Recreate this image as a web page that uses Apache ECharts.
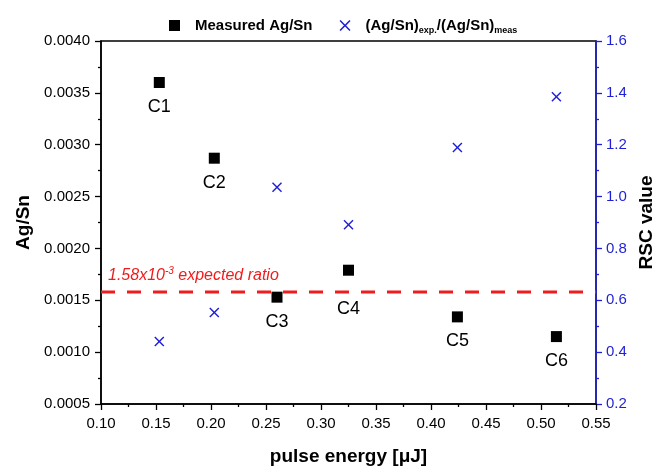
<!DOCTYPE html>
<html>
<head>
<meta charset="utf-8">
<script src="https://cdn.jsdelivr.net/npm/echarts@6/dist/echarts.min.js"></script>
<style>
  html, body { margin: 0; padding: 0; background: #fff; }
  #chart { width: 654px; height: 466px; }
</style>
</head>
<body>
<div id="chart"></div>
<script>
// Sample labels and pulse energies [µJ]
const sampleNames = ['C1', 'C2', 'C3', 'C4', 'C5', 'C6'];
const pulseEnergy = [0.153, 0.203, 0.260, 0.325, 0.424, 0.514];
// Measured Ag/Sn ratio (left axis)
const measuredAgSn = [0.00360, 0.00287, 0.00153, 0.00179, 0.00134, 0.00115];
// RSC value = (Ag/Sn)exp / (Ag/Sn)meas (right axis)
const rscValue = [0.441, 0.553, 1.036, 0.891, 1.189, 1.385];
// Expected ratio reference line
const expectedRatio = 0.00158;
// Axis ranges
const xRange = [0.10, 0.55];
const leftRange = [0.0005, 0.0040];
const rightRange = [0.2, 1.6];

const FONT = '"Liberation Sans", Arial, sans-serif';
const BLUE = '#1f1fd6';
const RED = '#ee1c1c';
const CROSS = 'path://M0,1L1,0L5,4L9,0L10,1L6,5L10,9L9,10L5,6L1,10L0,9L4,5Z';

const chart = echarts.init(document.getElementById('chart'), null, { renderer: 'canvas' });

const minorTick = { show: true, splitNumber: 2, length: 3, lineStyle: { width: 1.3 } };
const axisNameStyle = { fontFamily: FONT, fontSize: 19, fontWeight: 'bold', color: '#000' };

chart.setOption({
  animation: false,
  textStyle: { fontFamily: FONT },
  grid: {
    left: 101, right: 58, top: 41, bottom: 62,
    outerBoundsMode: 'none', containLabel: false,
    show: true, borderColor: '#000', borderWidth: 1.5, backgroundColor: 'transparent'
  },
  legend: {
    left: 164, top: 11,
    itemWidth: 11, itemHeight: 11, itemGap: 27,
    data: [
      { name: 'Measured Ag/Sn', icon: 'rect', itemStyle: { opacity: 1 } },
      { name: 'RSC', icon: CROSS, itemStyle: { opacity: 1 } }
    ],
    formatter: function (name) {
      if (name === 'RSC') {
        return '{b|(Ag/Sn)}{s|exp.}{b|/(Ag/Sn)}{s|meas}';
      }
      return '{b|' + name + '}';
    },
    textStyle: {
      padding: [0, 0, 0, 10],
      rich: {
        b: { fontFamily: FONT, fontSize: 15, fontWeight: 'bold', color: '#000', lineHeight: 18 },
        s: { fontFamily: FONT, fontSize: 9, fontWeight: 'bold', color: '#000', lineHeight: 18, padding: [10, 0, 0, 0] }
      }
    }
  },
  xAxis: {
    type: 'value',
    min: xRange[0], max: xRange[1], interval: 0.05,
    name: 'pulse energy [\u03BCJ]',
    nameLocation: 'middle', nameGap: 43,
    nameTextStyle: axisNameStyle,
    axisLine: { onZero: false, lineStyle: { color: '#000', width: 1.5 } },
    axisTick: { length: 6, lineStyle: { width: 1.3 } },
    minorTick: minorTick,
    splitLine: { show: false },
    axisLabel: {
      fontFamily: FONT, fontSize: 15, color: '#000', margin: 12,
      formatter: v => v.toFixed(2)
    }
  },
  yAxis: [
    {
      type: 'value',
      min: leftRange[0], max: leftRange[1], interval: 0.0005,
      name: 'Ag/Sn', nameLocation: 'middle', nameGap: 68,
      nameTextStyle: axisNameStyle,
      axisLine: { show: true, onZero: false, lineStyle: { color: '#000', width: 1.5 } },
      axisTick: { show: true, length: 6, lineStyle: { width: 1.3 } },
      minorTick: minorTick,
      splitLine: { show: false },
      axisLabel: {
        fontFamily: FONT, fontSize: 15, color: '#000', margin: 11,
        formatter: v => v.toFixed(4)
      }
    },
    {
      type: 'value', position: 'right',
      min: rightRange[0], max: rightRange[1], interval: 0.2,
      name: 'RSC value', nameLocation: 'middle', nameGap: 35, nameRotate: 90,
      nameTextStyle: axisNameStyle,
      axisLine: { show: true, onZero: false, lineStyle: { color: BLUE, width: 1.5 } },
      axisTick: { show: true, length: 6, lineStyle: { width: 1.3 } },
      minorTick: minorTick,
      splitLine: { show: false },
      axisLabel: {
        fontFamily: FONT, fontSize: 15, color: BLUE, margin: 10,
        formatter: v => v.toFixed(1)
      }
    }
  ],
  series: [
    {
      // dashed reference line for the expected Ag/Sn ratio
      name: 'expected',
      type: 'line',
      yAxisIndex: 0,
      symbol: 'circle', symbolSize: 0,
      lineStyle: { color: RED, width: 3, type: [14, 12] },
      itemStyle: { color: RED },
      clip: false,
      silent: true,
      data: [
        {
          value: [xRange[0], expectedRatio],
          label: {
            show: true, position: [7, -25],
            formatter: '{a|1.58x10}{s|-3}{a| expected ratio}',
            rich: {
              a: { fontFamily: FONT, fontSize: 16, fontStyle: 'italic', color: RED, lineHeight: 18 },
              s: { fontFamily: FONT, fontSize: 10, fontStyle: 'italic', color: RED, lineHeight: 18, padding: [0, 0, 9, 0] }
            }
          }
        },
        { value: [xRange[1], expectedRatio], label: { show: false } }
      ],
      z: 2
    },
    {
      name: 'Measured Ag/Sn',
      type: 'scatter',
      yAxisIndex: 0,
      symbol: 'rect', symbolSize: 11,
      itemStyle: { color: '#000', opacity: 1 },
      data: pulseEnergy.map((x, i) => ({
        value: [x, measuredAgSn[i]],
        name: sampleNames[i],
        label: sampleNames[i] === 'C4' ? { offset: [0, 14] } : {}
      })),
      label: {
        show: true, position: 'bottom', distance: 10,
        formatter: p => p.name,
        fontFamily: FONT, fontSize: 18, color: '#000'
      },
      z: 3
    },
    {
      name: 'RSC',
      type: 'scatter',
      yAxisIndex: 1,
      symbol: CROSS, symbolSize: 10,
      itemStyle: { color: BLUE, opacity: 1 },
      data: pulseEnergy.map((x, i) => [x, rscValue[i]]),
      z: 3
    }
  ]
});
</script>
</body>
</html>
